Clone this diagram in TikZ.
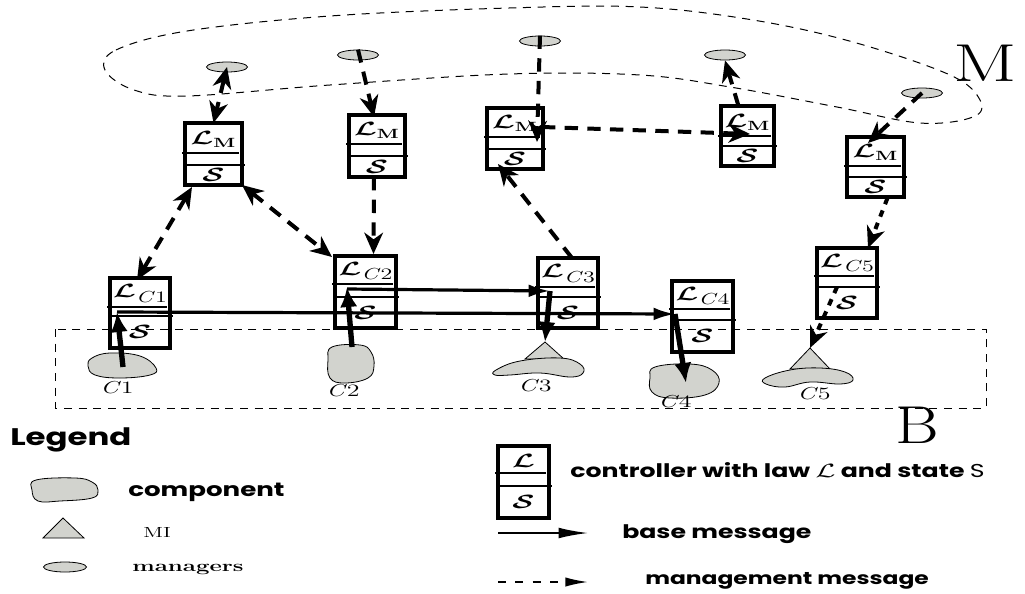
\documentclass[tikz,border=0pt]{standalone}
\usepackage{fontspec}
\usepackage{amsmath}
\usetikzlibrary{arrows.meta,shapes.geometric,calc}
\newfontfamily\legfont[FakeStretch=1.35]{Poppins}
\definecolor{compgray}{RGB}{210,211,206}
\newcommand{\wx}[1]{\scalebox{1.5}[1]{#1}}
\newcommand{\Cn}[1]{\textit{C}\oldstylenums{#1}}
\newcommand{\LC}[1]{$\mathcal{L}$\raisebox{-3.2pt}{\fontsize{12}{12}\selectfont\Cn{#1}}}
\tikzset{
  cbox/.style={draw, line width=2.3pt, inner sep=0pt, outer sep=0pt},
  cline/.style={line width=1.6pt},
  clab/.style={inner sep=0pt, font=\fontsize{14}{14}\selectfont\boldmath},
  mgr/.style={ellipse, draw, line width=0.6pt, fill=compgray, minimum width=41*0.75pt, minimum height=10*0.75pt, inner sep=0pt},
  comp/.style={fill=compgray, draw=black, line width=0.6pt},
  region/.style={line width=0.75pt, dash pattern=on 6pt off 5pt},
  mgmt/.style={line width=3pt, dash pattern=on 10pt off 7pt, >={Stealth[length=16pt,width=14pt,inset=5pt]}},
  mgmtb/.style={line width=3pt, dash pattern=on 5pt off 5pt, >={Stealth[length=16pt,width=14pt,inset=5pt]}},
  basem/.style={line width=2.4pt, >={Latex[length=16pt,width=9.5pt]}},
  basev/.style={line width=4pt, >={Latex[length=15pt,width=13pt]}},
  clabel/.style={inner sep=0pt, anchor=base, font=\fontsize{13}{13}\selectfont},
  leg/.style={inner sep=0pt, anchor=base west, font=\legfont\bfseries\fontsize{14}{14}\selectfont},
}
% name, x, y(top), w, h, d1, d2, top label, bottom label
\newcommand{\mkctrl}[9]{%
  \node[cbox, minimum width=#4*0.75pt, minimum height=#5*0.75pt, anchor=north west] (#1) at (#2,#3) {};
  \draw[cline] ($(#1.north west)+(-3,#6)$) -- ($(#1.north east)+(-3,#6)$);
  \draw[cline] ($(#1.north west)+(0,#7)$) -- ($(#1.north east)+(3,#7)$);
  \node[clab] (#1t) at ($(#1.north)+(0,{#6/2+1})$) {\wx{#8}};
  \node[clab] (#1b) at ($(#1.north)+(0,{(#7+#5)/2})$) {\wx{#9}};
}
\begin{document}
\begin{tikzpicture}[x=0.75pt,y=-0.75pt]
\useasboundingbox (0,0) rectangle (1025,593);

% regions
\draw[region] (55,329) rectangle (986,408);
\draw[region] plot[smooth cycle, tension=0.6] coordinates {
 (105,70) (116,50) (187,31) (330,16) (509,8) (640,7) (753,20) (853,42) (950,75)
 (980,100) (973,117) (920,123) (837,107) (730,87) (640,75) (509,74) (330,85) (187,96) (134,90)};
\node[inner sep=0pt, anchor=base west, font=\fontsize{40}{40}\selectfont] (Mlab) at (953,81) {\scalebox{1.4}[1]{M}};
\node[inner sep=0pt, anchor=base west, font=\fontsize{40}{40}\selectfont] (Blab) at (895,443) {\scalebox{1.25}[1]{B}};

% components
\coordinate (c1) at (123,367);
\coordinate (c2) at (352,347);
\coordinate (t3) at (545,342);
\coordinate (c4) at (686,383);
\coordinate (t5) at (810,348);
\filldraw[comp] plot[smooth cycle, tension=0.7] coordinates {(92,358) (110,353) (140,356) (156,368) (150,375) (120,378) (95,375) (88,366)};
\filldraw[comp] plot[smooth cycle, tension=0.7] coordinates {(332,347) (360,345) (371,352) (374,366) (368,378) (345,383) (330,378) (328,360)};
\filldraw[comp] (t3) -- (525,359) -- (564,359) -- cycle;
\filldraw[comp] plot[smooth cycle, tension=0.7] coordinates {(496,370) (520,361) (560,358) (580,364) (583,373) (570,377) (540,373) (510,375) (495,375)};
\filldraw[comp] plot[smooth cycle, tension=0.7] coordinates {(655,367) (690,364) (712,370) (719,383) (705,395) (670,398) (652,392) (650,378)};
\filldraw[comp] (t5) -- (790,369) -- (830,369) -- cycle;
\filldraw[comp] plot[smooth cycle, tension=0.7] coordinates {(765,378) (790,370) (820,368) (845,372) (853,380) (840,384) (810,382) (785,387) (766,384)};
\node[clabel] (lc1) at (117,393) {\wx{\Cn{1}}};
\node[clabel] (lc2) at (343,396) {\wx{\Cn{2}}};
\node[clabel] (lc3) at (535,391) {\wx{\Cn{3}}};
\node[clabel] (lc4) at (675,407) {\wx{\Cn{4}}};
\node[clabel] (lc5) at (814,399) {\wx{\Cn{5}}};

% managers
\node[mgr] (m1) at (227,67) {};
\node[mgr] (m2) at (358,55) {};
\node[mgr] (m3) at (540,41) {};
\node[mgr] (m4) at (725,55) {};
\node[mgr] (m5) at (922,93) {};

% controllers
\mkctrl{LM1}{185}{123}{57}{62}{30}{42}{$\mathcal{L}_{\mathbf{M}}$}{$\mathcal{S}$}
\mkctrl{LM2}{349}{115}{56}{62}{29}{41}{$\mathcal{L}_{\mathbf{M}}$}{$\mathcal{S}$}
\mkctrl{LM3}{487}{108}{56}{61}{29}{41}{$\mathcal{L}_{\mathbf{M}}$}{$\mathcal{S}$}
\mkctrl{LM4}{721}{106}{53}{60}{30}{40}{$\mathcal{L}_{\mathbf{M}}$}{$\mathcal{S}$}
\mkctrl{LM5}{847}{137}{57}{60}{29}{40}{$\mathcal{L}_{\mathbf{M}}$}{$\mathcal{S}$}
\mkctrl{LC1}{110}{278}{60}{70}{29}{38}{\LC{1}}{$\mathcal{S}$}
\mkctrl{LC2}{335}{256}{61}{72}{28}{41}{\LC{2}}{$\mathcal{S}$}
\mkctrl{LC3}{538}{258}{60}{70}{29}{39}{\LC{3}}{$\mathcal{S}$}
\mkctrl{LC4}{672}{281}{61}{71}{28}{39}{\LC{4}}{$\mathcal{S}$}
\mkctrl{LC5}{817}{248}{60}{70}{28}{39}{\LC{5}}{$\mathcal{S}$}

% management messages
\draw[mgmt,<->] (m1.center) -- (LM1.north);
\draw[mgmt,->] (m2.north) -- ($(LM2.north)+(-3,2)$);
\draw[mgmt,->] (m3.north) -- ($(LM3.north east)+(-6,34)$);
\draw[mgmt,->] ($(LM3.north east)+(-1,19)$) -- ($(LM4.north west)+(29,28)$);
\draw[mgmt,->] ($(LM4.north)+(-9,0)$) -- (m4.south);
\draw[mgmt,->] (m5.center) -- ($(LM5.north west)+(21,6)$);
\draw[mgmtb,->] ($(LM5.south)+(12,1)$) -- ($(LC5.north east)+(-9,0)$);
\draw[mgmtb,->] ($(LC5.north west)+(20,39)$) -- (t5);
\draw[mgmt,<->] ($(LM1.south west)+(7,2)$) -- ($(LC1.north)+(-3,2)$);
\draw[mgmt,<->] (LM1.south east) -- ($(LC2.north west)+(-3,1)$);
\draw[mgmt,->] ($(LM2.south)+(-3,0)$) -- ($(LC2.north)+(8,-2)$);
\draw[mgmt,->] ($(LC3.north)+(4,0)$) -- ($(LM3.south west)+(11,-5)$);

% base messages
\coordinate (pC1) at ($(LC1.north west)+(7,34)$);
\coordinate (pC4) at ($(LC4.north west)+(3,33)$);
\coordinate (pC2) at ($(LC2.north west)+(12,31)$);
\coordinate (pC2b) at ($(LC2.north west)+(12,33)$);
\coordinate (pC3) at ($(LC3.north west)+(12,33)$);
\draw[basev,->] (c1) -- (pC1);
\draw[basem,->] (pC1) -- (pC4);
\draw[basev,->] (c2) -- (pC2);
\draw[basem,->] (pC2b) -- (pC3);
\draw[basev,->] (pC3) -- (t3);
\draw[basev,->] (pC4) -- (c4);

% legend left
\node[leg, font=\legfont\bfseries\fontsize{18}{18}\selectfont] (legt) at (10,445) {Legend};
\filldraw[comp] plot[smooth cycle, tension=0.7] coordinates {(36,480) (75,478) (92,482) (98,490) (92,498) (60,501) (38,501) (32,490)};
\coordinate (legcomp) at (65,490);
\node[leg, font=\legfont\bfseries\fontsize{14.5}{14.5}\selectfont] (legct) at (128,496) {component};
\filldraw[comp] (63,518) -- (43,538) -- (84,538) -- cycle;
\coordinate (legmi) at (63,530);
\node[inner sep=0pt, anchor=base west, font=\fontsize{11}{11}\selectfont] (legmit) at (143,537) {\wx{MI}};
\node[mgr, minimum width=43*0.75pt] (legm) at (65,567) {};
\node[inner sep=0pt, anchor=base west, font=\bfseries\fontsize{12}{12}\selectfont] (legmt) at (132,571) {\wx{managers}};

% legend right
\mkctrl{LG}{498}{446}{51}{72}{27}{40}{$\mathcal{L}$}{$\mathcal{S}$}
\node[leg] (legctrl) at (570,477) {controller with law \wx{$\mathcal{L}$} and state {\mdseries S}};
\coordinate (lb1) at (498,533);
\coordinate (lb2) at (588,533);
\draw[line width=1.3pt, -{Latex[length=22pt,width=8pt]}] (lb1) -- (lb2);
\node[leg] (legbt) at (622,538) {base message};
\coordinate (lm1) at (498,582);
\coordinate (lm2) at (588,582);
\draw[line width=1.3pt, dash pattern=on 6pt off 7pt, -{Latex[length=17pt,width=7pt]}] (lm1) -- (lm2);
\node[leg, font=\legfont\bfseries\fontsize{13}{13}\selectfont] (legmm) at (645,584) {management message};
\end{tikzpicture}
\end{document}
